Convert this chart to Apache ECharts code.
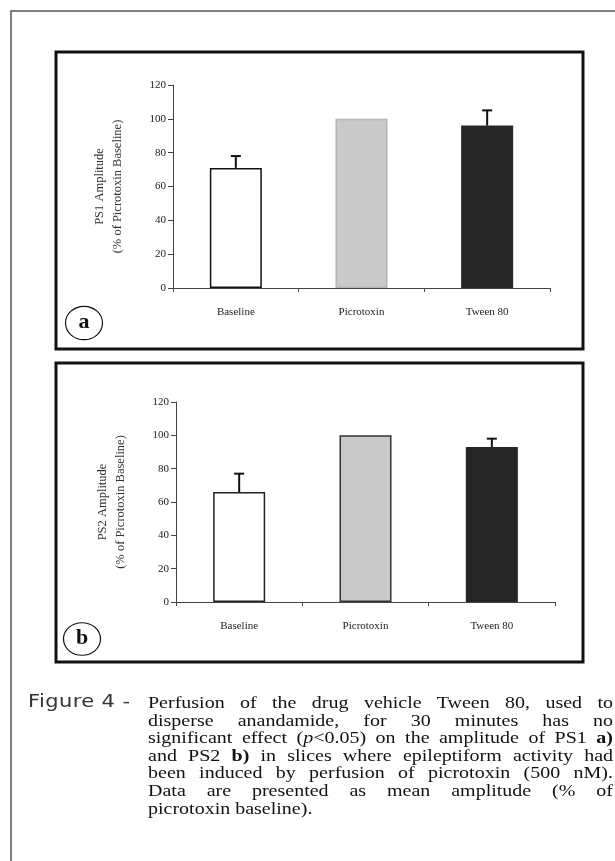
<!DOCTYPE html>
<html>
<head>
<meta charset="utf-8">
<script src="https://cdn.jsdelivr.net/npm/echarts@6/dist/echarts.min.js"></script>
<style>
  html, body { margin: 0; padding: 0; background: #fff; }
  #wrap { position: relative; width: 615px; height: 861px; overflow: hidden; }
  #chart { position: absolute; left: 0; top: 0; width: 615px; height: 861px; }
  #figlabel { position: absolute; left: 28px; top: 692px; font-family: "DejaVu Sans", sans-serif; font-size: 21px; line-height: 20px; letter-spacing: 0.4px; color: #333; transform: scaleY(0.88); transform-origin: 0 0; white-space: nowrap; font-weight: normal; }
  #caption { position: absolute; left: 148px; top: 693px; width: 465px; font-family: "Liberation Serif", "Times New Roman", serif; font-size: 20px; line-height: 20px; color: #111; transform: scaleY(0.88); transform-origin: 0 0; }
  #caption div { text-align: justify; text-align-last: justify; white-space: nowrap; }
  #caption div.last { text-align-last: left; }
</style>
</head>
<body>
<div id="wrap">
  <div id="chart"></div>
  <div id="figlabel">Figure 4 -</div>
  <div id="caption">
    <div>Perfusion of the drug vehicle Tween 80, used to</div>
    <div>disperse anandamide, for 30 minutes has no</div>
    <div>significant effect (<i>p</i>&lt;0.05) on the amplitude of PS1 <b>a)</b></div>
    <div>and PS2 <b>b)</b> in slices where epileptiform activity had</div>
    <div>been induced by perfusion of picrotoxin (500 nM).</div>
    <div>Data are presented as mean amplitude (% of</div>
    <div class="last">picrotoxin baseline).</div>
  </div>
</div>
<script>
// ---- data ----
const categories = ['Baseline', 'Picrotoxin', 'Tween 80'];
const ps1Mean = [71, 100, 96];
const ps1ErrUpper = [78, null, 105];
const ps2Mean = [66, 100, 93];
const ps2ErrUpper = [77, null, 98];
const yMin = 0, yMax = 120, yStep = 20;
const ps1AxisName = 'PS1 Amplitude\n(% of Picrotoxin Baseline)';
const ps2AxisName = 'PS2 Amplitude\n(% of Picrotoxin Baseline)';

// ---- styles ----
const barFill = ['#ffffff', '#c9c9c9', '#262626'];
const barBorderA = ['#111111', '#b5b5b5', '#262626'];
const barBorderB = ['#222222', '#333333', '#262626'];

const chart = echarts.init(document.getElementById('chart'), null, { renderer: 'canvas' });

function barData(vals, borders) {
  return vals.map((v, i) => ({
    value: v,
    itemStyle: { color: barFill[i], borderColor: borders[i], borderWidth: 1.5 }
  }));
}
function errData(means, ups) {
  return means.map((m, i) => [i, m, ups[i]]).filter(d => d[2] != null);
}
function errRender(params, api) {
  const x = api.value(0);
  const lo = api.coord([x, api.value(1)]);
  const hi = api.coord([x, api.value(2)]);
  const cap = 5;
  return {
    type: 'group',
    children: [
      { type: 'line', shape: { x1: lo[0], y1: lo[1], x2: hi[0], y2: hi[1] }, style: { stroke: '#111', lineWidth: 2 } },
      { type: 'line', shape: { x1: hi[0] - cap, y1: hi[1], x2: hi[0] + cap, y2: hi[1] }, style: { stroke: '#111', lineWidth: 2 } }
    ]
  };
}
const axisFont = { fontFamily: 'Liberation Serif', fontSize: 11, color: '#222' };
function xAx(gi) {
  return {
    type: 'category', gridIndex: gi, data: categories,
    axisLine: { lineStyle: { color: '#444', width: 1 } },
    axisTick: { show: true, length: 4, lineStyle: { color: '#444' } },
    axisLabel: Object.assign({ margin: 19 }, axisFont)
  };
}
function yAx(gi, name) {
  return {
    type: 'value', gridIndex: gi, min: yMin, max: yMax, interval: yStep,
    name: name, nameLocation: 'middle', nameRotate: 90, nameGap: 46,
    nameTextStyle: { fontFamily: 'Liberation Serif', fontSize: 12.5, lineHeight: 18, color: '#333' },
    axisLine: { show: true, lineStyle: { color: '#444', width: 1 } },
    axisTick: { show: true, length: 5, lineStyle: { color: '#444' } },
    splitLine: { show: false },
    axisLabel: Object.assign({ margin: 7 }, axisFont)
  };
}

const option = {
  animation: false,
  backgroundColor: '#fff',
  grid: [
    { left: 173, top: 85, width: 377, height: 203 },
    { left: 176, top: 402, width: 379, height: 200 }
  ],
  xAxis: [xAx(0), xAx(1)],
  yAxis: [yAx(0, ps1AxisName), yAx(1, ps2AxisName)],
  series: [
    { type: 'bar', xAxisIndex: 0, yAxisIndex: 0, barWidth: 52, data: barData(ps1Mean, barBorderA), z: 2 },
    { type: 'custom', xAxisIndex: 0, yAxisIndex: 0, renderItem: errRender, data: errData(ps1Mean, ps1ErrUpper), z: 3 },
    { type: 'bar', xAxisIndex: 1, yAxisIndex: 1, barWidth: 52, data: barData(ps2Mean, barBorderB), z: 2 },
    { type: 'custom', xAxisIndex: 1, yAxisIndex: 1, renderItem: errRender, data: errData(ps2Mean, ps2ErrUpper), z: 3 }
  ],
  graphic: [
    { type: 'rect', shape: { x: 11, y: 11, width: 700, height: 900 }, style: { fill: null, stroke: '#555', lineWidth: 1.5 }, silent: true },
    { type: 'rect', shape: { x: 56, y: 52, width: 527, height: 297 }, style: { fill: null, stroke: '#111', lineWidth: 3 }, silent: true },
    { type: 'rect', shape: { x: 56, y: 363, width: 527, height: 299 }, style: { fill: null, stroke: '#111', lineWidth: 3 }, silent: true },
    { type: 'circle', x: 84, y: 323, scaleY: 0.9, shape: { cx: 0, cy: 0, r: 18.5 }, style: { fill: '#fff', stroke: '#111', lineWidth: 1.2 }, silent: true },
    { type: 'text', x: 84, y: 322, style: { text: 'a', font: 'bold 22px "Liberation Serif"', fill: '#111', align: 'center', verticalAlign: 'middle' }, silent: true },
    { type: 'circle', x: 82, y: 639, scaleY: 0.88, shape: { cx: 0, cy: 0, r: 18.5 }, style: { fill: '#fff', stroke: '#111', lineWidth: 1.2 }, silent: true },
    { type: 'text', x: 82, y: 638, style: { text: 'b', font: 'bold 22px "Liberation Serif"', fill: '#111', align: 'center', verticalAlign: 'middle' }, silent: true }
  ]
};
chart.setOption(option);
</script>
</body>
</html>
